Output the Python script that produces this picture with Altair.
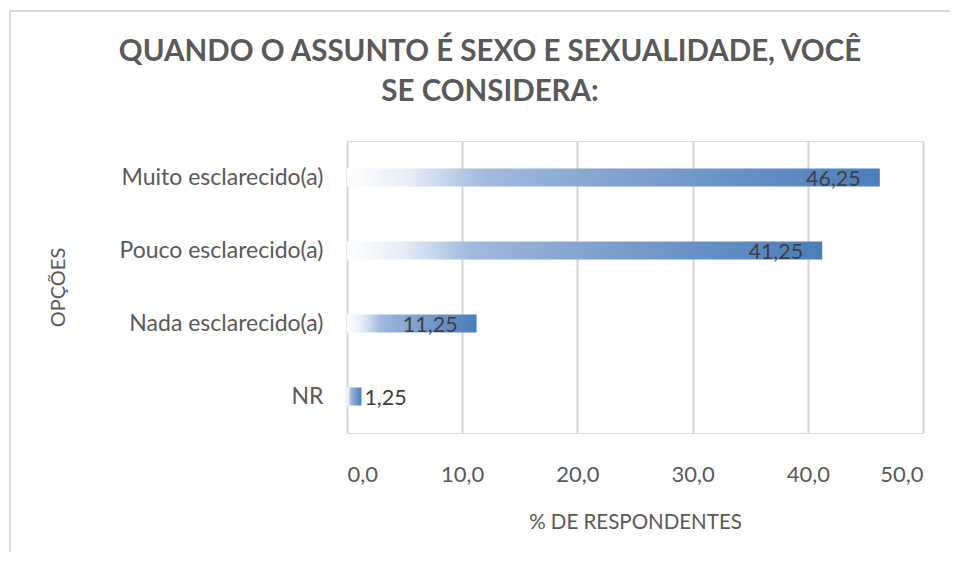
import altair as alt
import pandas as pd

categories = ["Muito esclarecido(a)", "Pouco esclarecido(a)", "Nada esclarecido(a)", "NR"]
values = [46.25, 41.25, 11.25, 1.25]
x_ticks = [0, 10, 20, 30, 40, 50]

title_lines = ["QUANDO O ASSUNTO É SEXO E SEXUALIDADE, VOCÊ", "SE CONSIDERA:"]
x_title = "% DE RESPONDENTES"
y_title = "OPÇÕES"

df = pd.DataFrame({"cat": categories, "val": values})

FONT = "Lato"
GRAY = "#595959"

W, H = 576, 292
PAD_L, PAD_T = 339, 133

y_enc = alt.Y("cat:N", sort=categories, title=y_title,
              axis=alt.Axis(labelAlign="right", labelPadding=24, labelFontSize=23, labelLimit=400,
                            labelColor=GRAY, labelFont=FONT, domain=False, ticks=False,
                            grid=False, titleFont=FONT, titleFontSize=20, titleColor=GRAY,
                            titleFontWeight="normal", titleAngle=-90, titleX=-289,
                            titleY=H / 2, titleAlign="center", titleBaseline="middle"))
x_enc = alt.X("val:Q", title=x_title,
              scale=alt.Scale(domain=[0, 50], nice=False),
              axis=alt.Axis(values=x_ticks, labelExpr="replace(format(datum.value, '.1f'), '.', ',')",
                            grid=True, gridColor="#d6d6d6", gridWidth=2, domain=False, ticks=False,
                            labelPadding=41, labelBaseline="middle", labelFontSize=22,
                            labelColor=GRAY, labelFont=FONT, titleFont=FONT, titleFontSize=20.5,
                            titleColor=GRAY, titleFontWeight="normal", titleX=W / 2, titleY=89,
                            titleBaseline="middle", titleAlign="center"))

grad = alt.Gradient(
    gradient="linear",
    stops=[
        alt.GradientStop(color="#ffffff", offset=0),
        alt.GradientStop(color="#e4ecf6", offset=0.12),
        alt.GradientStop(color="#9fbadd", offset=0.26),
        alt.GradientStop(color="#7c9fcd", offset=0.55),
        alt.GradientStop(color="#4a7ebb", offset=1),
    ],
    x1=0, x2=1, y1=0, y2=0,
)

base = alt.Chart(df)

bars = base.mark_bar(color=grad, size=18).encode(x=x_enc, y=y_enc)

label_expr = "replace(format(datum.val, '.2f'), '.', ',')"

inside = base.transform_filter("datum.val >= 5").transform_calculate(
    lab=label_expr
).mark_text(align="right", baseline="middle", dx=-19, dy=2, fontSize=21.5,
            font=FONT, color="#404040").encode(
    x="val:Q", y=alt.Y("cat:N", sort=categories), text="lab:N")

outside = base.transform_filter("datum.val < 5").transform_calculate(
    lab=label_expr
).mark_text(align="left", baseline="middle", dx=3, dy=2, fontSize=21.5,
            font=FONT, color="#404040").encode(
    x="val:Q", y=alt.Y("cat:N", sort=categories), text="lab:N")

frame_df = pd.DataFrame({"k": [0]})
frame_top = alt.Chart(frame_df).mark_rule(color="#d9d9d9", strokeWidth=2).encode(
    x=alt.value(-PAD_L + 2), x2=alt.value(W + 60), y=alt.value(-PAD_T + 3))
frame_left = alt.Chart(frame_df).mark_rule(color="#d9d9d9", strokeWidth=2).encode(
    x=alt.value(-PAD_L + 2), y=alt.value(-PAD_T + 3), y2=alt.value(H + 140))

chart = alt.layer(frame_top, frame_left, bars, inside, outside).properties(
    width=W, height=H,
    autosize=alt.AutoSizeParams(type="none"),
    padding={"left": PAD_L, "top": PAD_T, "right": 942 - PAD_L - W, "bottom": 119},
    title=alt.Title(title_lines, font=FONT, fontSize=29.5, fontWeight="bold", color=GRAY,
                    anchor="middle", dx=-145, offset=0, dy=120, baseline="alphabetic",
                    lineHeight=40),
).configure_view(stroke=None).configure(background="white")

chart.save("out.html", embed_options={"renderer": "svg", "actions": False})
